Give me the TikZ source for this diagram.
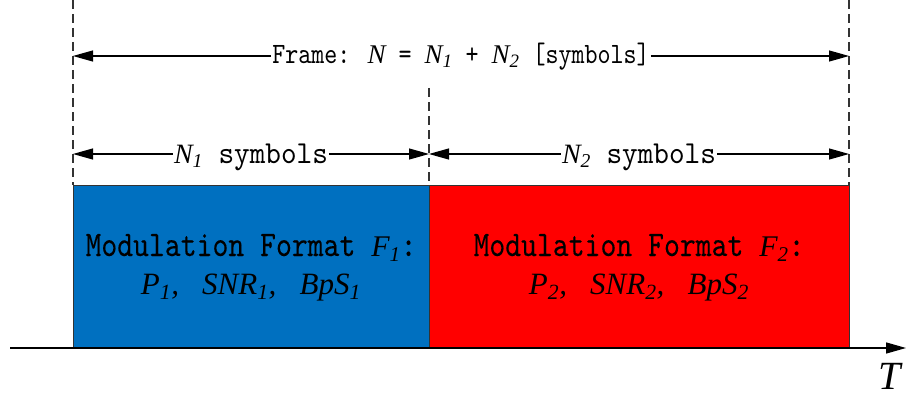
\documentclass[tikz,border=0pt]{standalone}
\usepackage{fontspec}
\setmainfont{Liberation Serif}
\newfontfamily\monoMod{lmmono10-regular.otf}[FakeStretch=0.84,FakeBold=0.1]
\newfontfamily\monoFrame{lmmono10-regular.otf}[FakeStretch=0.84]
\newfontfamily\monoSym{lmmono10-regular.otf}[FakeStretch=0.93]
\usetikzlibrary{arrows.meta}
\definecolor{boxblue}{HTML}{0070C0}
\definecolor{boxred}{HTML}{FF0000}
\definecolor{guidegray}{HTML}{333333}
\newcommand\mi[2]{{\fontsize{#1}{#1}\rmfamily\itshape #2}}
\newcommand\sbs[1]{\textsubscript{#1}}
\tikzset{
  guide/.style={draw=guidegray, line width=1.3pt, dash pattern=on 9pt off 5pt},
  dimline/.style={draw=black, line width=1.2pt, -{Triangle[length=20pt,width=11pt]}},
  lbl/.style={anchor=base, inner sep=1pt, text=black},
  framelbl/.style={lbl, font=\fontsize{29.5}{29.5}\monoFrame},
  symlbl/.style={lbl, font=\fontsize{32}{32}\monoSym},
  modlbl/.style={lbl, font=\fontsize{36}{36}\monoMod},
  parlbl/.style={lbl, font=\fontsize{31}{31}\rmfamily\itshape},
  slot/.style={draw=black!80, line width=1pt},
}
\begin{document}
\begin{tikzpicture}[x=1pt,y=-1pt]
\useasboundingbox (0,0) rectangle (908,396);
% boxes
\path[slot, fill=boxblue] (73,185) rectangle (429,348);
\path[slot, fill=boxred] (429,185) rectangle (849,348);
% guide coordinates
\coordinate (Ltop) at (73,0);
\coordinate (Lbot) at (73,185);
\coordinate (Mtop) at (429,88);
\coordinate (Mbot) at (429,185);
\coordinate (Rtop) at (849,0);
\coordinate (Rbot) at (849,185);
\draw[guide] (Ltop) -- (Lbot);
\draw[guide] (Mtop) -- (Mbot);
\draw[guide] (Rtop) -- (Rbot);
% frame dimension
\coordinate (FL) at (73,56);
\coordinate (FR) at (849,56);
\node[framelbl] (frame) at (461,64) {Frame: \mi{27}{N} = \mi{27}{N\sbs{1}} + \mi{27}{N\sbs{2}} [symbols]};
\draw[dimline] (frame.west |- FL) -- (FL);
\draw[dimline] (frame.east |- FR) -- (FR);
% N1 / N2 dimensions
\coordinate (AL) at (73,154);
\coordinate (AM) at (429,154);
\coordinate (AR) at (849,154);
\node[symlbl] (n1) at (251,163) {\mi{28}{N\sbs{1}} symbols};
\node[symlbl] (n2) at (639,163) {\mi{28}{N\sbs{2}} symbols};
\draw[dimline] (n1.west |- AL) -- (AL);
\draw[dimline] (n1.east |- AM) -- (AM);
\draw[dimline] (n2.west |- AM) -- (AM);
\draw[dimline] (n2.east |- AR) -- (AR);
% box texts
\node[modlbl] (m1) at (251,256) {Modulation Format \mi{30}{F\sbs{1}}:};
\node[parlbl] (p1) at (251,294) {P\sbs{1},\ \ \ SNR\sbs{1},\ \ \ BpS\sbs{1}};
\node[modlbl] (m2) at (639,256) {Modulation Format \mi{30}{F\sbs{2}}:};
\node[parlbl] (p2) at (639,294) {P\sbs{2},\ \ \ SNR\sbs{2},\ \ \ BpS\sbs{2}};
% time axis
\coordinate (ax0) at (10,348);
\coordinate (ax1) at (906,348);
\draw[line width=1.3pt, -{Triangle[length=20pt,width=11pt]}] (ax0) -- (ax1);
\node[lbl, font=\fontsize{40}{40}\rmfamily\itshape] (T) at (890,389) {T};
\end{tikzpicture}
\end{document}
